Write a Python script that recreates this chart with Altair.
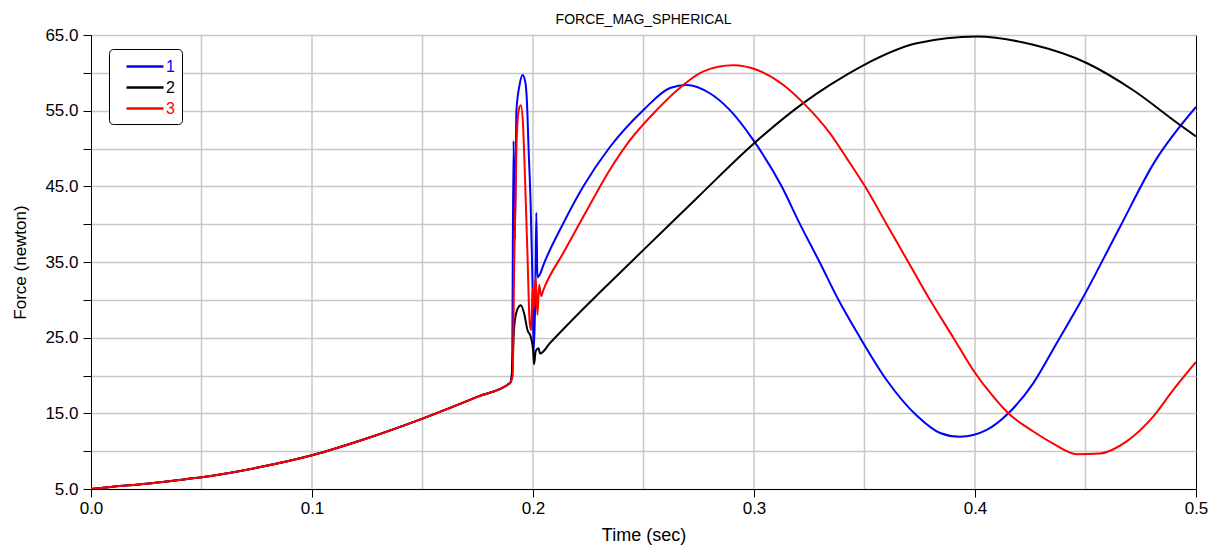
import altair as alt
import pandas as pd

# ---- data ----
# common pre-impact segment (all three bodies coincide)
t_common = [0.0, 0.01, 0.025, 0.04, 0.05, 0.075, 0.1, 0.125, 0.15, 0.175, 0.1896]
f_common = [5.0, 5.3, 5.7, 6.2, 6.55, 7.8, 9.45, 11.7, 14.3, 17.2, 19.0]

# series "1" (blue)
t1 = [0.1905, 0.1912, 0.1918, 0.1925, 0.1940, 0.1953, 0.1965, 0.1972, 0.1980, 0.1990,
      0.1998, 0.2003, 0.2010, 0.2015, 0.2020, 0.2030, 0.2047, 0.2137, 0.2228, 0.2348,
      0.2500, 0.2620, 0.2695, 0.2800, 0.2890, 0.2997, 0.3125, 0.3208, 0.3300,
      0.3382, 0.3480, 0.3600, 0.3736, 0.3842, 0.3932, 0.4053, 0.4151, 0.4264, 0.4370,
      0.4483, 0.4650, 0.4814, 0.5000]
f1 = [20.0, 51.0, 38.0, 55.0, 58.5, 59.7, 58.8, 56.5, 50.0, 42.0,
      32.0, 23.0, 30.0, 41.5, 33.0, 33.3, 34.6, 40.1, 45.0, 50.2,
      55.1, 58.0, 58.4, 57.3, 55.1, 51.1, 45.0, 40.0, 34.8,
      30.0, 25.0, 19.4, 14.7, 12.4, 11.9, 12.8, 15.0, 19.0, 24.3,
      30.0, 39.3, 48.3, 55.5]

# series "2" (black)
t2 = [0.1905, 0.1915, 0.1930, 0.1945, 0.1960, 0.1975, 0.1990, 0.2000, 0.2005, 0.2012,
      0.2025, 0.2032, 0.2077, 0.2213, 0.2303, 0.2500, 0.2750, 0.2997, 0.3223, 0.3344,
      0.3495, 0.3736, 0.4008, 0.4264, 0.4505, 0.4716, 0.4928, 0.5000]
f2 = [20.5, 26.5, 28.8, 29.3, 28.2, 26.0, 25.1, 23.5, 21.5, 23.2,
      23.6, 22.9, 24.3, 28.4, 31.0, 36.6, 43.7, 50.6, 56.0, 58.4,
      61.0, 63.9, 64.8, 63.7, 61.3, 57.7, 53.1, 51.6]

# series "3" (red)
t3 = [0.1908, 0.1915, 0.1925, 0.1935, 0.1945, 0.1955, 0.1965, 0.1975, 0.1985, 0.1992,
      0.1998, 0.2005, 0.2012, 0.2020, 0.2028, 0.2037, 0.2047, 0.2137, 0.2228, 0.2348,
      0.2439, 0.2560, 0.2680, 0.2771, 0.2906, 0.3012, 0.3133, 0.3224, 0.3344,
      0.3420, 0.3502, 0.3600, 0.3698, 0.3796, 0.3902, 0.3992, 0.4083, 0.4151, 0.4264,
      0.4354, 0.4460, 0.4566, 0.4686, 0.4807, 0.4897, 0.5000]
f3 = [20.0, 35.0, 50.0, 55.0, 55.7, 53.0, 45.0, 36.0, 27.0, 26.0,
      31.5, 29.0, 33.0, 28.0, 32.0, 30.5, 31.3, 36.2, 41.0, 47.2,
      51.1, 55.1, 58.4, 60.2, 61.0, 60.4, 58.4, 56.0, 52.0,
      48.7, 45.0, 40.0, 35.0, 30.0, 25.0, 20.7, 17.2, 15.0, 12.6,
      11.0, 9.6, 9.7, 11.3, 14.6, 18.1, 21.8]

series_names = ["1", "2", "3"]
series_colors = ["#0000ff", "#000000", "#ff0000"]

x_ticks = [0.0, 0.1, 0.2, 0.3, 0.4, 0.5]
x_grid = [0.05, 0.1, 0.15, 0.2, 0.25, 0.3, 0.35, 0.4, 0.45]
y_ticks = [5, 10, 15, 20, 25, 30, 35, 40, 45, 50, 55, 60, 65]

chart_title = "FORCE_MAG_SPHERICAL"
x_title = "Time (sec)"
y_title = "Force (newton)"

# ---- build table ----
rows = []
for name, ts, fs in zip(series_names, [t1, t2, t3], [f1, f2, f3]):
    for t, f in zip(t_common + ts, f_common + fs):
        rows.append({"series": name, "t": t, "force": f})
df = pd.DataFrame(rows)
grid_df = pd.DataFrame({"t": x_grid})

FONT = "Liberation Sans"
GRID = "#c8c8c8"

xscale = alt.Scale(domain=[0, 0.5], nice=False, zero=False)
yscale = alt.Scale(domain=[5, 65], nice=False, zero=False)

x_axis = alt.Axis(
    values=x_ticks, format=".1f", grid=False, title=x_title,
    labelFlush=False, labelOverlap=False, tickSize=8, labelPadding=3,
    titlePadding=10, titleFontSize=18,
)

label_color_expr = " : ".join(
    f"datum.label == '{n}' ? '{c}'" for n, c in zip(series_names[:-1], series_colors[:-1])
) + f" : '{series_colors[-1]}'"

grid_rules = alt.Chart(grid_df).mark_rule(color=GRID, strokeWidth=1.5).encode(
    x=alt.X("t:Q", scale=xscale, axis=x_axis)
)

lines = alt.Chart(df).mark_line(strokeWidth=2, clip=True, interpolate="monotone").encode(
    x=alt.X("t:Q", scale=xscale, axis=x_axis),
    y=alt.Y(
        "force:Q",
        scale=yscale,
        axis=alt.Axis(
            values=y_ticks,
            labelExpr="datum.value % 10 == 5 ? format(datum.value, '.1f') : ''",
            grid=True, gridColor=GRID, gridWidth=1.5, title=y_title,
            labelFlush=False, labelOverlap=False, tickSize=8, labelPadding=5,
            titlePadding=15,
        ),
    ),
    color=alt.Color(
        "series:N",
        scale=alt.Scale(domain=series_names, range=series_colors),
        legend=alt.Legend(
            orient="none", legendX=18, legendY=14, title=None,
            symbolType="M0,0H4", symbolSize=342, symbolStrokeWidth=2.5,
            labelFont=FONT, labelFontSize=16, labelOffset=29,
            labelColor={"expr": label_color_expr},
            padding=7, rowPadding=2,
            strokeColor="#000000", fillColor="#ffffff", cornerRadius=4,
        ),
    ),
    order=alt.Order("t:Q"),
)

chart = alt.layer(grid_rules, lines).properties(
    width=1105,
    height=454,
    background="#ffffff",
    title=alt.TitleParams(chart_title, font=FONT, fontSize=14, fontWeight="normal",
                          color="#000000", anchor="middle", offset=-1, frame="group"),
    autosize=alt.AutoSizeParams(type="none"),
    padding={"left": 83, "top": 27, "right": 16, "bottom": 59},
).configure_axis(
    labelFont=FONT, titleFont=FONT, labelFontSize=17, titleFontSize=17,
    titleFontWeight="normal", labelColor="#000000", titleColor="#000000",
    domainColor="#000000", tickColor="#000000", domainWidth=1, tickWidth=1,
).configure_view(
    stroke="#000000", strokeWidth=1,
)

chart.save("out.html", embed_options={"renderer": "svg", "actions": False})
